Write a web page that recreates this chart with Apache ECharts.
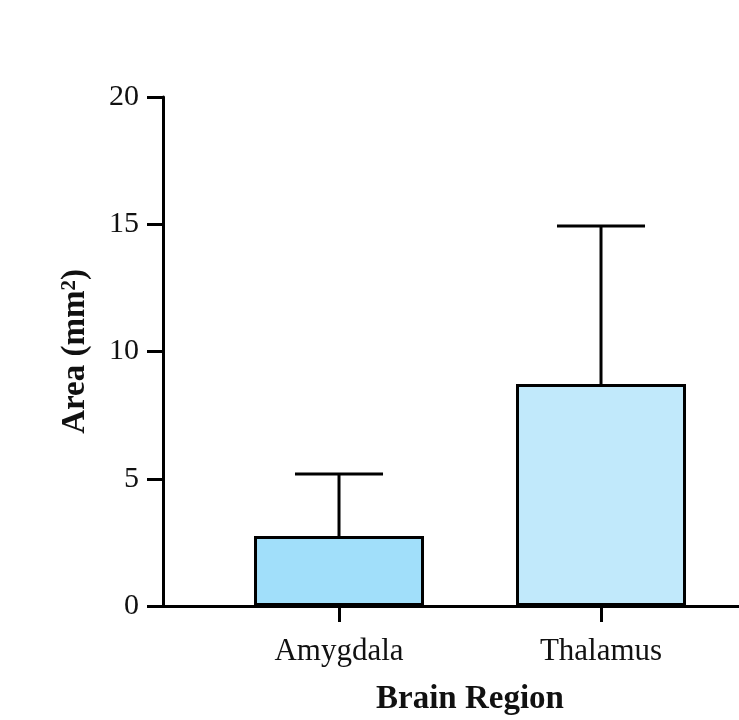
<!DOCTYPE html>
<html>
<head>
<meta charset="utf-8">
<script src="https://cdn.jsdelivr.net/npm/echarts@6/dist/echarts.min.js"></script>
<style>html,body{margin:0;padding:0;background:#fff}#c{width:739px;height:720px}</style>
</head>
<body>
<div id="c"></div>
<script>
var categories = ['Amygdala', 'Thalamus'];
var means = [2.75, 8.72];
var errors = [2.44, 6.21];
var colors = ['#a1dffa', '#c1e9fb'];
var yTicks = [0, 5, 10, 15, 20];

var chart = echarts.init(document.getElementById('c'));
var FONT = '"Liberation Serif", "Times New Roman", serif';
var positions = categories.map(function (c, i) { return i; });

chart.setOption({
  backgroundColor: '#ffffff',
  animation: false,
  grid: { left: 163, right: 0, top: 97, bottom: 114, containLabel: false },
  xAxis: {
    type: 'value',
    min: -0.6718,
    max: 1.5267,
    splitLine: { show: false },
    axisLine: { show: true, onZero: false, lineStyle: { color: '#000', width: 3 } },
    axisTick: { show: true, customValues: positions, length: 16, lineStyle: { color: '#000', width: 3 } },
    axisLabel: {
      customValues: positions,
      margin: 30,
      fontFamily: FONT, fontSize: 31, color: '#111',
      formatter: function (v) { return categories[Math.round(v)] || ''; }
    }
  },
  yAxis: {
    type: 'value',
    min: 0, max: 20, interval: 5,
    splitLine: { show: false },
    axisLine: { show: true, onZero: false, lineStyle: { color: '#000', width: 3 } },
    axisTick: { show: true, length: 16, lineStyle: { color: '#000', width: 3 } },
    axisLabel: { margin: 24, fontFamily: FONT, fontSize: 30, color: '#111',
      customValues: yTicks },
    name: 'Area (mm{sup|2})',
    nameLocation: 'middle',
    nameGap: 71,
    nameRotate: 90,
    nameTextStyle: {
      fontFamily: FONT, fontSize: 33, fontWeight: 'bold', color: '#111',
      rich: { sup: { fontFamily: FONT, fontSize: 21, fontWeight: 'bold', verticalAlign: 'top', color: '#111', padding: [0, 0, 12, 0] } }
    }
  },
  graphic: [{
    type: 'text', x: 470, y: 699,
    style: { text: 'Brain Region', font: 'bold 33px ' + FONT, fill: '#111', textAlign: 'center', textVerticalAlign: 'middle' }
  }],
  series: [
    {
      type: 'custom',
      z: 1,
      data: positions.map(function (p, i) { return [p, means[i], means[i] + errors[i]]; }),
      renderItem: function (params, api) {
        var x = api.value(0);
        var lo = api.coord([x, api.value(1)]);
        var hi = api.coord([x, api.value(2)]);
        var capL = api.coord([x - 0.168, api.value(2)]);
        var capR = api.coord([x + 0.168, api.value(2)]);
        var st = { stroke: '#000', lineWidth: 3 };
        return { type: 'group', children: [
          { type: 'line', shape: { x1: lo[0], y1: lo[1], x2: hi[0], y2: hi[1] }, style: st },
          { type: 'line', shape: { x1: capL[0], y1: capL[1], x2: capR[0], y2: capR[1] }, style: st }
        ]};
      }
    },
    {
      type: 'bar',
      z: 2,
      barWidth: 170,
      data: positions.map(function (p, i) {
        return { value: [p, means[i]], itemStyle: { color: colors[i], borderColor: '#000', borderWidth: 3 } };
      })
    }
  ]
});
</script>
</body>
</html>
